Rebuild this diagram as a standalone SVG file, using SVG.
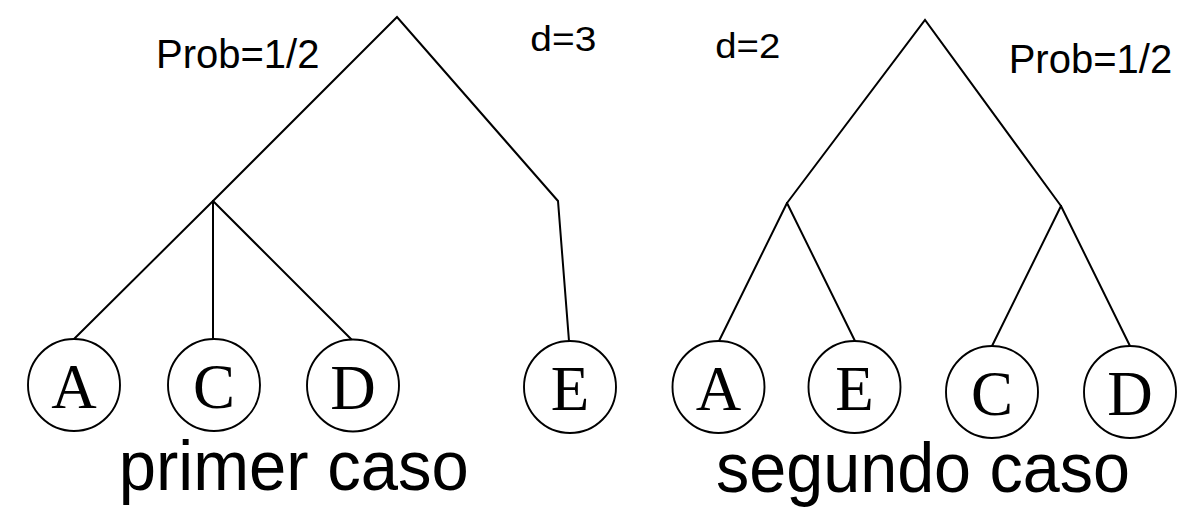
<svg xmlns="http://www.w3.org/2000/svg" width="1201" height="526" viewBox="0 0 1201 526">
<style>
.edge{stroke:#000;stroke-width:2;fill:none;stroke-linecap:round}
.nc{fill:#fff;stroke:#000;stroke-width:1.9}
.nl{font-family:"Liberation Serif","DejaVu Serif",serif;font-size:63px;text-anchor:middle;fill:#000}
.lbl{font-family:"Liberation Sans",Arial,sans-serif;fill:#000}
</style>
<rect width="1201" height="526" fill="#fff"/>
<g id="connectors">
<polyline class="edge" points="213,201 397,17 558,201 569,341"/>
<line class="edge" x1="213" y1="201" x2="74" y2="339"/>
<line class="edge" x1="213" y1="201" x2="213" y2="339"/>
<line class="edge" x1="213" y1="201" x2="352" y2="340"/>
<polyline class="edge" points="787,203 925,20 1061,206"/>
<line class="edge" x1="787" y1="203" x2="719" y2="341"/>
<line class="edge" x1="787" y1="203" x2="855" y2="341"/>
<line class="edge" x1="1061" y1="206" x2="992" y2="346"/>
<line class="edge" x1="1061" y1="206" x2="1130" y2="346"/>
</g>
<g id="node-left-A"><circle class="nc" cx="74" cy="385" r="46"/><text class="nl" x="74" y="408">A</text></g>
<g id="node-left-C"><circle class="nc" cx="214" cy="385" r="46"/><text class="nl" x="214" y="408">C</text></g>
<g id="node-left-D"><circle class="nc" cx="353" cy="385.5" r="46"/><text class="nl" x="353" y="408.5">D</text></g>
<g id="node-left-E"><circle class="nc" cx="570" cy="387" r="46"/><text class="nl" x="570" y="410">E</text></g>
<g id="node-right-A"><circle class="nc" cx="718.5" cy="387" r="46"/><text class="nl" x="718.5" y="410">A</text></g>
<g id="node-right-E"><circle class="nc" cx="854.5" cy="387" r="46"/><text class="nl" x="854.5" y="410">E</text></g>
<g id="node-right-C"><circle class="nc" cx="992" cy="392" r="46"/><text class="nl" x="992" y="415">C</text></g>
<g id="node-right-D"><circle class="nc" cx="1130" cy="392" r="46"/><text class="nl" x="1130" y="415">D</text></g>
<g id="labels">
<text class="lbl" x="156" y="68.3" font-size="40">Prob=1/2</text>
<text class="lbl" x="1008.7" y="73.3" font-size="40">Prob=1/2</text>
<text class="lbl" x="530.3" y="50.7" font-size="35" textLength="66" lengthAdjust="spacingAndGlyphs">d=3</text>
<text class="lbl" x="715.3" y="57.7" font-size="35" textLength="65" lengthAdjust="spacingAndGlyphs">d=2</text>
<text class="lbl" x="118.7" y="490" font-size="70" textLength="350" lengthAdjust="spacingAndGlyphs">primer caso</text>
<text class="lbl" x="716" y="491.7" font-size="70" textLength="414" lengthAdjust="spacingAndGlyphs">segundo caso</text>
</g>
</svg>
